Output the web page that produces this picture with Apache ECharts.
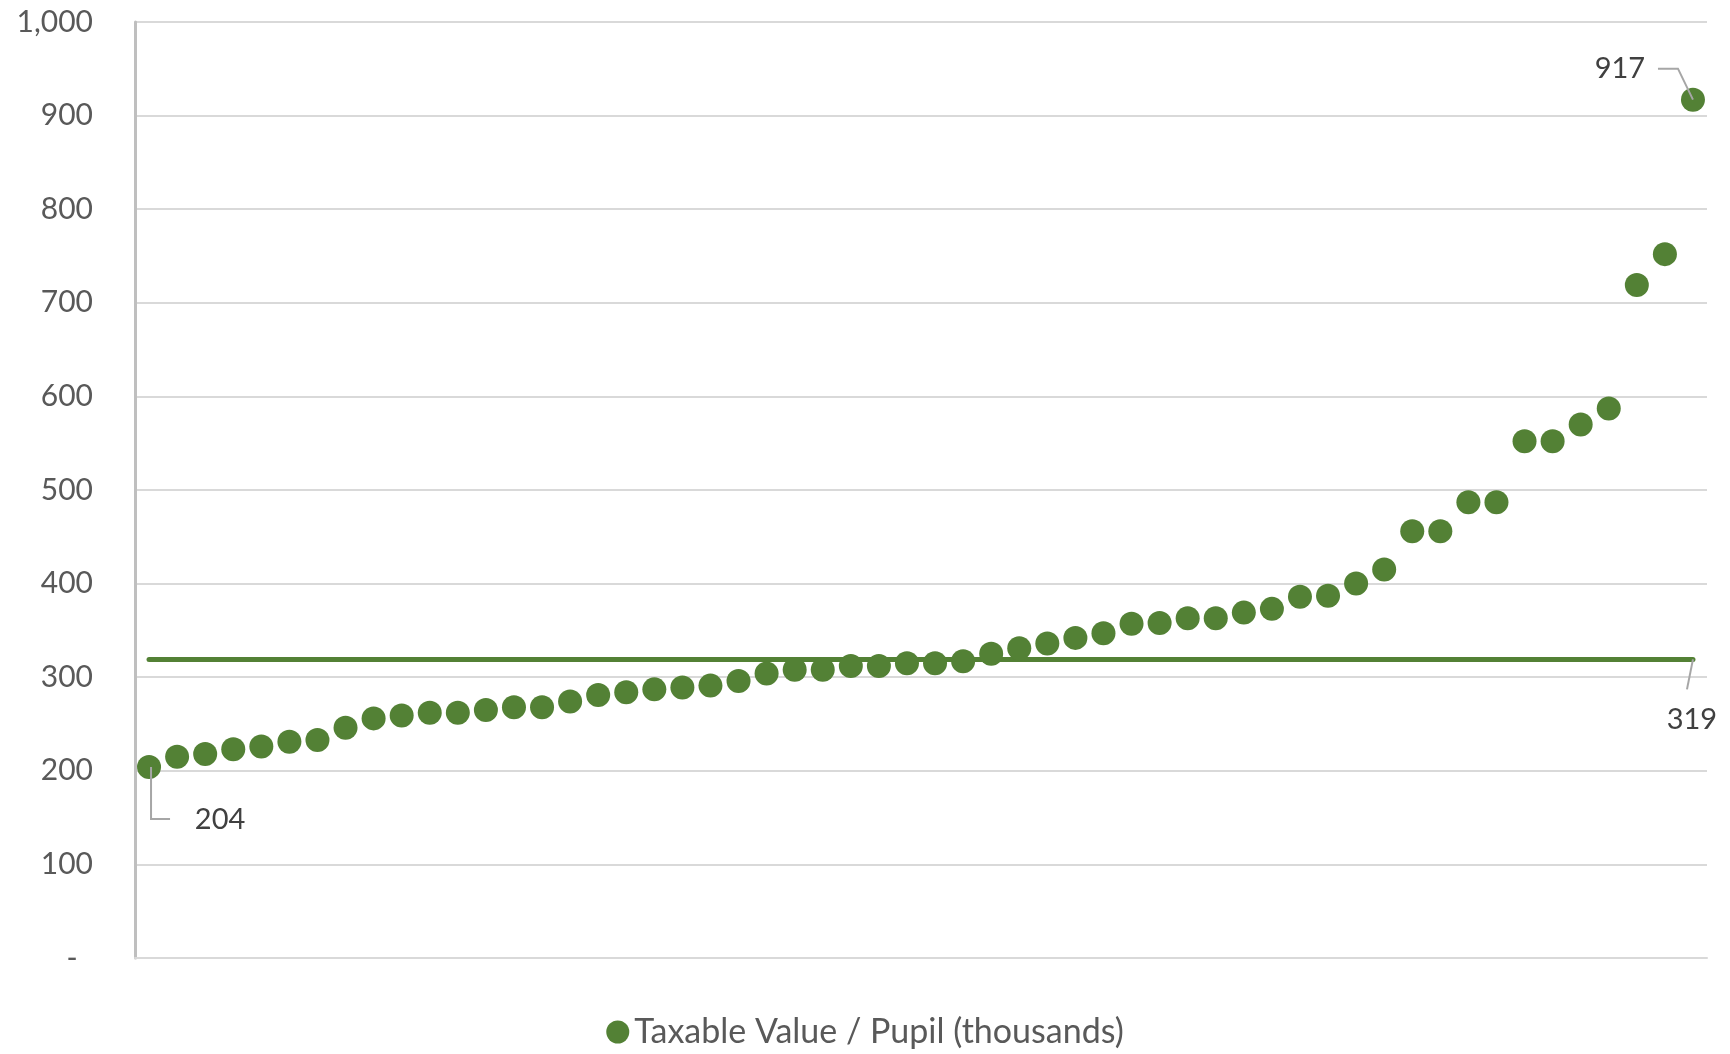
<!DOCTYPE html>
<html>
<head>
<meta charset="utf-8">
<title>Taxable Value / Pupil</title>
<script src="https://cdn.jsdelivr.net/npm/echarts@6/dist/echarts.min.js"></script>
<style>
  html, body { margin: 0; padding: 0; background: #ffffff; }
  #chart { width: 1730px; height: 1054px; }
</style>
</head>
<body>
<div id="chart"></div>
<script>
// Taxable value per pupil (thousands), districts sorted ascending
const values = [
  204, 215, 218, 223, 226, 231, 233, 246, 256, 259,
  262, 262, 265, 268, 268, 274, 281, 284, 287, 289,
  291, 296, 304, 308, 308, 312, 312, 315, 315, 317,
  325, 331, 336, 342, 347, 357, 358, 363, 363, 369,
  373, 386, 387, 400, 415, 456, 456, 487, 487, 552,
  552, 570, 587, 719, 752, 917
];
// one category per district, in rank order
const categories = values.map((_, i) => String(i + 1));
// state-wide average
const AVERAGE = 319;
// y-axis tick values
const yTicks = [0, 100, 200, 300, 400, 500, 600, 700, 800, 900, 1000];

const SERIES_NAME = 'Taxable Value / Pupil (thousands)';
const GREEN = '#538135';
const FONT = 'Lato';
const last = values.length - 1;

const labelBase = {
  show: true,
  position: 'inside',
  color: '#404040',
  fontFamily: FONT,
  fontSize: 29,
  formatter: p => Array.isArray(p.value) ? p.value[1] : p.value
};

const scatterData = values.map((v, i) => {
  if (i === 0) return { value: v, label: Object.assign({}, labelBase, { offset: [71, 53] }) };
  if (i === last) return { value: v, label: Object.assign({}, labelBase, { offset: [-73, -31] }) };
  return v;
});

const avgLine = [
  [categories[0], AVERAGE],
  { value: [categories[last], AVERAGE], label: Object.assign({}, labelBase, { offset: [-1, 60] }) }
];

const chart = echarts.init(document.getElementById('chart'), null, { renderer: 'canvas' });

chart.setOption({
  animation: false,
  backgroundColor: '#ffffff',
  textStyle: { fontFamily: FONT },
  grid: { left: 135, right: 23, top: 22, bottom: 96 },
  legend: {
    data: [SERIES_NAME],
    bottom: 0,
    left: 'center',
    icon: 'circle',
    itemWidth: 23,
    itemHeight: 23,
    itemGap: 6,
    textStyle: { color: '#595959', fontFamily: FONT, fontSize: 34 }
  },
  xAxis: {
    type: 'category',
    data: categories,
    boundaryGap: true,
    axisLine: { show: true, lineStyle: { color: '#d9d9d9', width: 2 } },
    axisTick: { show: false },
    axisLabel: { show: false },
    splitLine: { show: false }
  },
  yAxis: {
    type: 'value',
    min: yTicks[0],
    max: yTicks[yTicks.length - 1],
    interval: yTicks[1] - yTicks[0],
    axisLine: { show: true, lineStyle: { color: '#bfbfbf', width: 3 } },
    axisTick: { show: false },
    axisLabel: {
      margin: 42,
      color: '#595959',
      fontFamily: FONT,
      fontSize: 30,
      formatter: v => v === 0 ? '-  ' : v.toLocaleString('en-US')
    },
    splitLine: { show: true, lineStyle: { color: '#d9d9d9', width: 2 } }
  },
  series: [
    {
      name: 'Average',
      type: 'line',
      data: avgLine,
      symbol: 'circle',
      symbolSize: 1,
      showSymbol: true,
      lineStyle: { color: GREEN, width: 5, cap: 'round' },
      itemStyle: { color: 'rgba(0,0,0,0)' },
      z: 2
    },
    {
      name: SERIES_NAME,
      type: 'scatter',
      data: scatterData,
      symbol: 'circle',
      symbolSize: 24,
      itemStyle: { color: GREEN, opacity: 1 },
      z: 3
    }
  ]
});

// leader lines from the three labels to their marks
function px(cat, val) {
  return chart.convertToPixel({ gridIndex: 0 }, [cat, val]);
}
const p0 = px(categories[0], values[0]);
const pN = px(categories[last], values[last]);
const pA = px(categories[last], AVERAGE);
const leader = { stroke: '#a6a6a6', lineWidth: 2, fill: null };

chart.setOption({
  graphic: [
    { type: 'polyline', z: 10, shape: { points: [[p0[0] + 2, p0[1]], [p0[0] + 2, p0[1] + 52], [p0[0] + 21, p0[1] + 52]] }, style: leader },
    { type: 'polyline', z: 10, shape: { points: [[pN[0] - 35, pN[1] - 31], [pN[0] - 15, pN[1] - 31], [pN[0], pN[1]]] }, style: leader },
    { type: 'polyline', z: 10, shape: { points: [[pA[0], pA[1]], [pA[0] - 6, pA[1] + 30]] }, style: leader }
  ]
});
</script>
</body>
</html>
